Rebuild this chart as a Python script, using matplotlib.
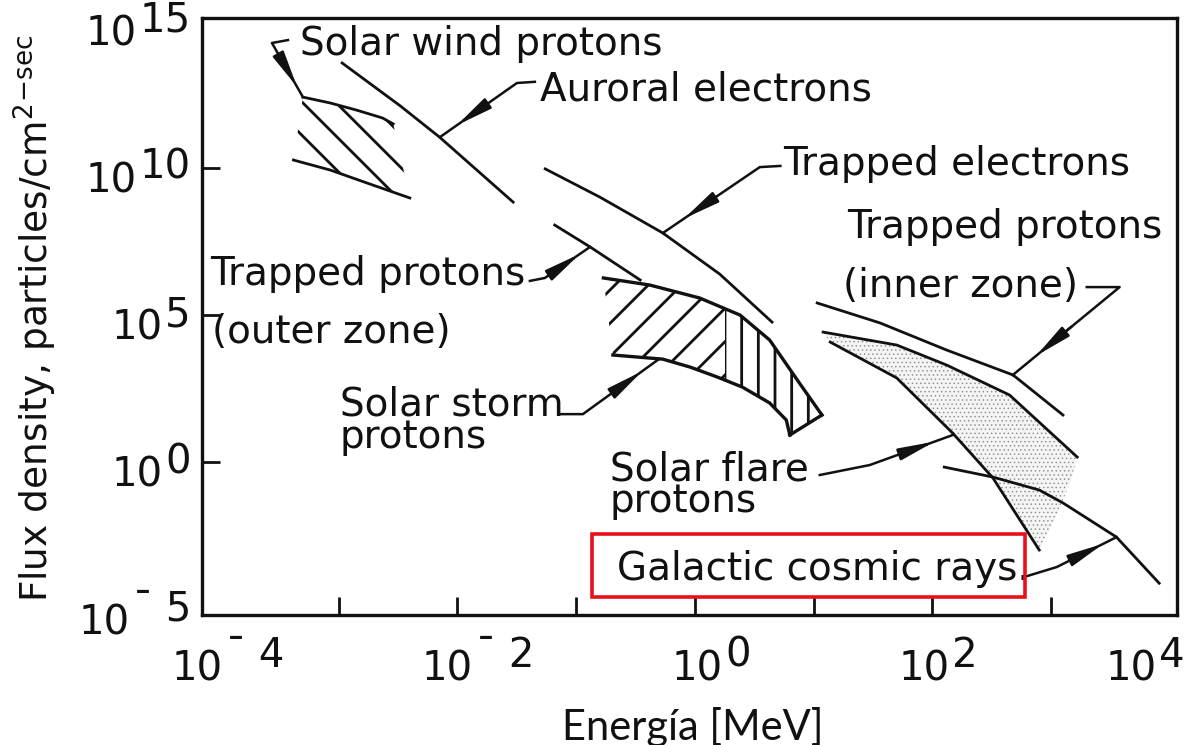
import numpy as np
import matplotlib.pyplot as plt
from matplotlib.patches import Polygon

# all values, as log10(E [MeV]) and log10(flux)
sw_upper_e = [-3.30, -3.07, -2.85, -2.63, -2.54]
sw_upper_f = [12.41, 12.21, 11.97, 11.70, 11.50]
sw_lower_e = [-3.38, -3.07, -2.74, -2.40]
sw_lower_f = [10.27, 9.93, 9.46, 8.98]

aur_e = [-2.97, -2.48, -2.15, -1.53]
aur_f = [13.57, 12.11, 11.05, 8.84]

tel_e = [-1.26, -0.80, -0.27, 0.21, 0.65]
tel_f = [9.97, 9.01, 7.79, 6.39, 4.76]

tpo_e = [-1.18, -0.88, -0.46]
tpo_f = [8.06, 7.31, 6.19]

storm_upper_e = [-0.77, -0.38, 0.04, 0.38, 0.63, 0.88, 1.07]
storm_upper_f = [6.26, 6.02, 5.58, 5.00, 4.15, 2.69, 1.60]
storm_lower_e = [-0.69, -0.27, -0.04, 0.19, 0.40, 0.63, 0.77, 0.80]
storm_lower_f = [3.64, 3.50, 3.23, 2.89, 2.55, 2.01, 1.43, 0.92]

tpi_e = [1.03, 1.56, 2.12, 2.68, 3.10]
tpi_f = [5.41, 4.73, 3.81, 2.96, 1.60]

flare_upper_e = [1.08, 1.70, 2.12, 2.65, 3.22]
flare_upper_f = [4.42, 3.98, 3.30, 2.28, 0.17]
flare_lower_e = [1.14, 1.70, 2.17, 2.51, 2.90]
flare_lower_f = [4.08, 2.86, 0.99, -0.54, -2.99]
flare_end_e = [3.17, 3.03]
flare_end_f = [-0.61, -1.97]

gcr_e = [2.10, 2.51, 2.90, 3.10, 3.55, 3.91]
gcr_f = [-0.17, -0.51, -0.95, -1.39, -2.55, -4.12]

xtick_exp = [-4, -2, 0, 2, 4]
xlab_pos = [-3.975, -1.869, 0.236, 2.146, 3.889]
ytick_exp = [15, 10, 5, 0, -5]

# (text, log E of left edge, log flux of last baseline)
labels = [
    ("Solar wind protons", -3.325, 13.84),
    ("Auroral electrons", -1.305, 12.31),
    ("Trapped electrons", 0.741, 9.76),
    ("Trapped protons", 1.279, 7.62),
    ("(inner zone)", 1.246, 5.61),
    ("Trapped protons", -4.083, 6.02),
    ("(outer zone)", -4.066, 4.05),
    ("Solar storm\nprotons", -2.988, 0.48),
    ("Solar flare\nprotons", -0.715, -1.70),
    ("Galactic cosmic rays.", -0.657, -4.01),
]

leaders = [
    [(-3.426, 14.35), (-3.561, 14.25), (-3.527, 14.01), (-3.300, 12.41)],
    [(-1.347, 12.93), (-1.498, 12.89), (-2.146, 11.05)],
    [(0.720, 10.07), (0.547, 10.03), (-0.269, 7.79)],
    [(-1.389, 6.16), (-1.263, 6.26), (-0.884, 7.31)],
    [(3.300, 5.95), (3.577, 5.95), (2.677, 2.96)],
    [(-1.136, 1.63), (-0.943, 1.63), (-0.303, 3.50)],
    [(1.052, -0.44), (1.473, -0.10), (2.172, 0.92)],
    [(2.795, -3.88), (3.047, -3.57), (3.552, -2.55)],
]

red_box_e = [-0.867, 2.778]
red_box_f = [-4.59, -2.45]

ink = "#111111"
P = lambda a: np.power(10.0, np.asarray(a, dtype=float))

plt.rcParams["font.family"] = ["DejaVu Sans"]
plt.rcParams["hatch.linewidth"] = 2.0

fig = plt.figure(figsize=(11.99, 7.45), dpi=100)
fig.patch.set_facecolor("white")
ax = fig.add_axes([202 / 1199, 130 / 745, 975 / 1199, 597 / 745])
ax.set_xscale("log")
ax.set_yscale("log")
ax.set_xlim(10 ** -4.15, 10 ** 4.06)
ax.set_ylim(10 ** -5.2, 10 ** 15.1)

# solar wind protons band
poly = np.column_stack([np.r_[sw_upper_e, sw_lower_e[::-1]], np.r_[sw_upper_f, sw_lower_f[::-1]]])
ax.add_patch(Polygon(P(poly), closed=True, fill=False, hatch="\\", edgecolor=ink, lw=0))
ax.plot(P(sw_upper_e), P(sw_upper_f), color=ink, lw=2)
ax.plot(P(sw_lower_e), P(sw_lower_f), color=ink, lw=2)

ax.plot(P(aur_e), P(aur_f), color=ink, lw=2)
ax.plot(P(tel_e), P(tel_f), color=ink, lw=2)
ax.plot(P(tpo_e), P(tpo_f), color=ink, lw=2)

# solar storm band, hatch turns from slanted to upright along the band
poly = np.column_stack([np.r_[storm_upper_e, storm_lower_e[::-1]], np.r_[storm_upper_f, storm_lower_f[::-1]]])
left = Polygon(P(poly), closed=True, fill=False, hatch="/", edgecolor=ink, lw=0)
right = Polygon(P(poly), closed=True, fill=False, hatch="|", edgecolor=ink, lw=0)
ax.add_patch(left)
ax.add_patch(right)
split = 10 ** 0.25
clipL = ax.axvspan(ax.get_xlim()[0], split, alpha=0)
clipR = ax.axvspan(split, ax.get_xlim()[1], alpha=0)
left.set_clip_path(clipL)
right.set_clip_path(clipR)
ax.plot(P(storm_upper_e), P(storm_upper_f), color=ink, lw=2.4)
ax.plot(P(storm_lower_e), P(storm_lower_f), color=ink, lw=2.4)
ax.plot(P([storm_upper_e[-1], storm_lower_e[-1]]), P([storm_upper_f[-1], storm_lower_f[-1]]), color=ink, lw=2.4)

# solar flare band (stippled)
with plt.rc_context({"hatch.linewidth": 0.5}):
    poly = np.column_stack([np.r_[flare_upper_e, flare_end_e, flare_lower_e[::-1]],
                            np.r_[flare_upper_f, flare_end_f, flare_lower_f[::-1]]])
    ax.add_patch(Polygon(P(poly), closed=True, facecolor="#f4f4f4", hatch="....", edgecolor="#8a8a8a", lw=0))
ax.plot(P(flare_upper_e), P(flare_upper_f), color=ink, lw=2)
ax.plot(P(flare_lower_e), P(flare_lower_f), color=ink, lw=2)
ax.plot(P(tpi_e), P(tpi_f), color=ink, lw=2)
ax.plot(P(gcr_e), P(gcr_f), color=ink, lw=2)

# labels and leader arrows
for txt, lx, ly in labels:
    ax.text(10 ** lx, 10 ** ly, txt, fontsize=28, color=ink, ha="left", va="baseline",
            linespacing=0.8)

for pts in leaders:
    pts = np.asarray(pts)
    ax.plot(P(pts[:, 0]), P(pts[:, 1]), color=ink, lw=1.8)
    tgt, knee = pts[-1], pts[-2]
    tip = tgt + 0.22 * (knee - tgt)
    tail = tgt + 0.55 * (knee - tgt)
    ax.annotate("", xy=tuple(P(tip)), xytext=tuple(P(tail)),
                arrowprops=dict(arrowstyle="-|>,head_length=1.2,head_width=0.2",
                                mutation_scale=18, lw=1.8, color=ink, shrinkA=0, shrinkB=0))

box = np.array([[red_box_e[0], red_box_f[0]], [red_box_e[1], red_box_f[0]],
                [red_box_e[1], red_box_f[1]], [red_box_e[0], red_box_f[1]]])
ax.add_patch(Polygon(P(box), closed=True, fill=False, edgecolor="#e8101a", lw=2.6, zorder=5))

# axes frame and ticks
for s in ax.spines.values():
    s.set_linewidth(2.4)
    s.set_color(ink)
ax.set_xticks([10.0 ** k for k in range(-3, 4)])
ax.set_yticks([10.0 ** k for k in (0, 5, 10)])
ax.minorticks_off()
ax.tick_params(direction="in", length=13, width=2, color=ink, labelbottom=False, labelleft=False)

for e, pos in zip(xtick_exp, xlab_pos):
    base = ax.annotate("10", xy=(10 ** pos, 0), xycoords=("data", "axes fraction"),
                       xytext=(0, -25), textcoords="offset points",
                       ha="right", va="top", fontsize=29, color=ink)
    s = str(e) if e >= 0 else "ˉ " + str(-e)
    ax.annotate(s, xy=(1, 0), xycoords=base, xytext=(2, 10), textcoords="offset points",
                ha="left", va="bottom", fontsize=29, color=ink)

for e in ytick_exp:
    s = str(e) if e >= 0 else "ˉ " + str(-e)
    ex = ax.annotate(s, xy=(0, 10.0 ** e), xycoords=("axes fraction", "data"),
                     xytext=(-8, 0), textcoords="offset points",
                     ha="right", va="center", fontsize=29, color=ink)
    ax.annotate("10", xy=(0, 0), xycoords=ex, xytext=(-2, -10), textcoords="offset points",
                ha="right", va="bottom", fontsize=29, color=ink)

fig.text(35 / 1199, 1 - 318 / 745, r"Flux density, particles/cm$^2$$^{\mathregular{-sec}}$",
         rotation=90, ha="center", va="center", fontsize=27, color=ink)
fig.text(693 / 1199, 1 - 727 / 745, "Energía [MeV]", ha="center", va="center",
         fontsize=30, family=["Lato", "DejaVu Sans"], color="#111111")

fig.savefig("out.png", dpi=100)
